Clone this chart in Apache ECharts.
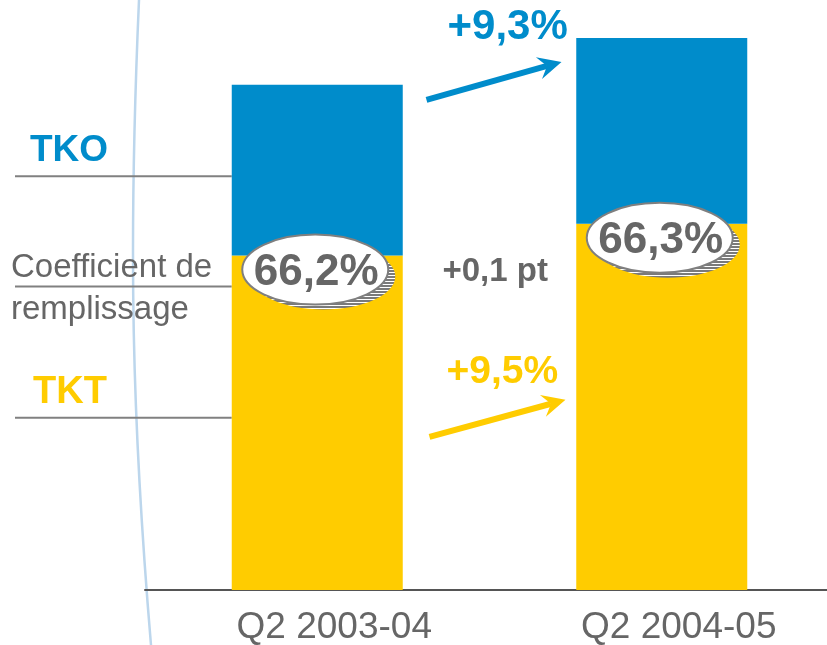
<!DOCTYPE html>
<html>
<head>
<meta charset="utf-8">
<script src="https://cdn.jsdelivr.net/npm/echarts@6/dist/echarts.min.js"></script>
<style>
  html, body { margin: 0; padding: 0; background: #fff; }
  #chart { width: 827px; height: 645px; }
</style>
</head>
<body>
<div id="chart"></div>
<script>
// données (indice : total Q2 2003-04 = 100)
const categories = ["Q2 2003-04", "Q2 2004-05"];
const tktValues = [66.2, 72.5];
const tkoValues = [33.8, 36.8];
const loadFactors = ["66,2%", "66,3%"];
const tkoGrowth = "+9,3%";
const tktGrowth = "+9,5%";
const loadFactorDelta = "+0,1 pt";

const BLUE = "#008ccb";
const YELLOW = "#ffcc00";
const GREY = "#666666";
const FONT = "Liberation Sans, Arial, sans-serif";

const chart = echarts.init(document.getElementById("chart"));

chart.setOption({
  animation: false,
  // la grille déborde à droite, comme sur la diapo
  grid: { left: 145, right: -7, top: 0, bottom: 55, outerBoundsMode: "none" },
  xAxis: {
    type: "category",
    data: categories,
    axisLine: { lineStyle: { color: "#555", width: 2 } },
    axisTick: { show: false },
    axisLabel: {
      color: GREY,
      fontFamily: FONT,
      fontSize: 37,
      margin: 19,
      padding: [0, 0, 0, 34],
    },
  },
  yAxis: { type: "value", min: 0, max: 116.8, show: false, splitLine: { show: false } },
  series: [
    {
      name: "TKT",
      type: "bar",
      stack: "total",
      barWidth: 171,
      data: tktValues,
      itemStyle: { color: YELLOW },
    },
    {
      name: "TKO",
      type: "bar",
      stack: "total",
      barWidth: 171,
      data: tkoValues,
      itemStyle: { color: BLUE },
    },
  ],
});

// motif hachuré pour l'ombre des ellipses
function hatchPattern() {
  const c = document.createElement("canvas");
  c.width = 6;
  c.height = 3;
  const ctx = c.getContext("2d");
  ctx.fillStyle = "#ffffff";
  ctx.fillRect(0, 0, 6, 3);
  ctx.fillStyle = "#7a7a7a";
  ctx.fillRect(0, 0, 6, 2);
  return { image: c, repeat: "repeat" };
}

// flèche : trait + pointe
function arrow(x1, y1, x2, y2, color) {
  const ang = Math.atan2(y2 - y1, x2 - x1);
  const len = 26;
  const back = 15;
  const spread = 0.45;
  const bx = x2 - Math.cos(ang) * back;
  const by = y2 - Math.sin(ang) * back;
  return [
    {
      type: "line",
      shape: { x1: x1, y1: y1, x2: bx, y2: by },
      style: { stroke: color, lineWidth: 6 },
    },
    {
      type: "polygon",
      shape: {
        points: [
          [x2, y2],
          [x2 - Math.cos(ang - spread) * len, y2 - Math.sin(ang - spread) * len],
          [bx, by],
          [x2 - Math.cos(ang + spread) * len, y2 - Math.sin(ang + spread) * len],
        ],
      },
      style: { fill: color },
    },
  ];
}

function text(x, y, str, opts) {
  return {
    type: "text",
    x: x,
    y: y,
    style: Object.assign(
      {
        text: str,
        fontFamily: FONT,
        fill: GREY,
        fontSize: 30,
        align: "left",
        verticalAlign: "middle",
      },
      opts
    ),
  };
}

function buildGraphics() {
  const els = [];
  const px = (i, v) => chart.convertToPixel({ xAxisIndex: 0, yAxisIndex: 0 }, [i, v]);
  const half = 171 / 2;

  // ligne décorative courbe à gauche
  els.push({
    type: "bezierCurve",
    shape: { x1: 139, y1: 0, cpx1: 128, cpy1: 250, cpx2: 132, cpy2: 420, x2: 151, y2: 645 },
    style: { stroke: "#bcd6ec", lineWidth: 2.5, fill: null },
    z: 0,
  });

  const b0Left = px(0, 0)[0] - half;
  const tkoMid = (px(0, tktValues[0])[1] + px(0, tktValues[0] + tkoValues[0])[1]) / 2;
  const tktMid = (px(0, 0)[1] + px(0, tktValues[0])[1]) / 2;

  // traits de légende à gauche
  [tkoMid + 6, px(0, tktValues[0])[1] + 31, tktMid - 5].forEach((y) => {
    els.push({
      type: "line",
      shape: { x1: 15, y1: y, x2: b0Left, y2: y },
      style: { stroke: "#808080", lineWidth: 2 },
    });
  });
  els.push(text(30, tkoMid - 19, "TKO", { fill: BLUE, fontWeight: "bold", fontSize: 37 }));
  els.push(text(11, px(0, tktValues[0])[1] + 12, "Coefficient de", { fontSize: 33 }));
  els.push(text(11, px(0, tktValues[0])[1] + 54, "remplissage", { fontSize: 33 }));
  els.push(text(33, tktMid - 30, "TKT", { fill: YELLOW, fontWeight: "bold", fontSize: 38 }));

  // ellipses du coefficient de remplissage
  const hatch = hatchPattern();
  tktValues.forEach((v, i) => {
    const p = px(i, v);
    const cx = p[0] - 2;
    const cy = p[1] + 14;
    els.push({
      type: "ellipse",
      shape: { cx: cx + 8, cy: cy + 7, rx: 72, ry: 33 },
      style: { fill: hatch, stroke: null },
      z: 10,
    });
    els.push({
      type: "ellipse",
      shape: { cx: cx, cy: cy, rx: 73, ry: 35 },
      style: { fill: "#ffffff", stroke: "#7f7f7f", lineWidth: 2 },
      z: 11,
    });
    els.push(
      Object.assign(text(cx + 1, cy + 3, loadFactors[i], { fontWeight: "bold", fontSize: 44, align: "center" }), { z: 12 })
    );
  });

  // flèches de croissance
  const midX = (px(0, 0)[0] + px(1, 0)[0]) / 2;
  const top0 = px(0, tktValues[0] + tkoValues[0])[1];
  const top1 = px(1, tktValues[1] + tkoValues[1])[1];
  arrow(midX - 63, top0 + 15, midX + 72, top1 + 24, BLUE).forEach((e) => els.push(e));
  arrow(midX - 60, tktMid + 14, midX + 76, tktMid - 23, YELLOW).forEach((e) => els.push(e));

  els.push(text(midX - 42, 27, tkoGrowth, { fill: BLUE, fontWeight: "bold", fontSize: 42 }));
  els.push(text(midX - 43, tktMid - 51, tktGrowth, { fill: YELLOW, fontWeight: "bold", fontSize: 39 }));
  els.push(text(midX - 47, px(0, tktValues[0])[1] + 16, loadFactorDelta, { fontWeight: "bold", fontSize: 33 }));

  return els;
}

chart.setOption({ graphic: buildGraphics() });
</script>
</body>
</html>
